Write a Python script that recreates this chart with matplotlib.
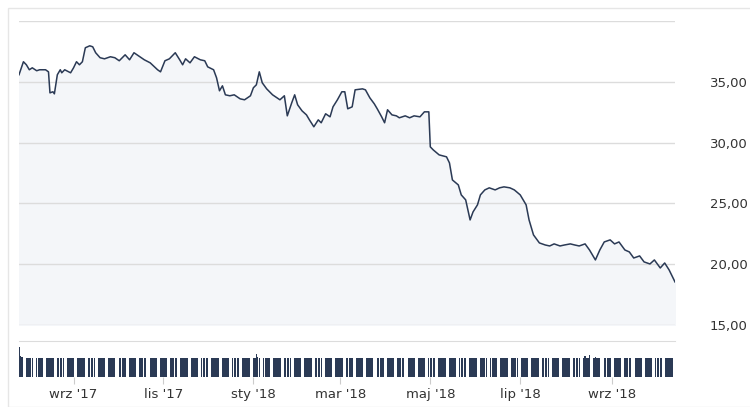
import numpy as np
import pandas as pd
import matplotlib
matplotlib.use("Agg")
import matplotlib.pyplot as plt

start = pd.Timestamp("2017-07-26")

# day offsets from start and closing price
days = [0, 3, 5, 7, 9, 12, 14, 18, 20, 21, 23, 24, 26, 28, 29, 31, 35, 37, 39, 41, 43, 45, 48, 50,
        52, 55, 58, 62, 65, 68, 72, 75, 78, 82, 85, 89, 94, 96, 99, 102, 106, 109, 111, 113, 116,
        119, 123, 126, 128, 132, 134, 136, 138, 140, 143, 146, 150, 153, 157, 159, 161, 163, 165,
        168, 170, 172, 174, 177, 180, 182, 185, 187, 189, 192, 195, 197, 200, 203, 205, 208, 211,
        213, 216, 219, 221, 223, 226, 228, 233, 235, 238, 241, 243, 246, 248, 250, 253, 256, 258,
        262, 265, 268, 272, 275, 278, 279, 281, 285, 290, 292, 294, 298, 300, 303, 306, 308, 311,
        313, 316, 319, 323, 326, 329, 333, 336, 340, 342, 344, 346, 349, 353, 357, 360, 363, 367,
        370, 374, 377, 380, 384, 387, 391, 394, 397, 401, 404, 407, 411, 414, 417, 421, 424, 428,
        431, 435, 438, 441, 445]
price = [35.58, 36.65, 36.40, 35.99, 36.15, 35.91, 35.99, 35.99, 35.82, 34.09, 34.18, 34.01, 35.58,
         35.99, 35.74, 35.99, 35.74, 36.15, 36.65, 36.40, 36.65, 37.80, 37.96, 37.88, 37.39, 36.98,
         36.89, 37.06, 36.98, 36.73, 37.22, 36.81, 37.39, 37.06, 36.81, 36.56, 35.99, 35.82, 36.73,
         36.89, 37.39, 36.81, 36.40, 36.89, 36.56, 37.06, 36.81, 36.73, 36.23, 35.99, 35.33, 34.26,
         34.67, 33.93, 33.85, 33.93, 33.60, 33.52, 33.85, 34.51, 34.75, 35.82, 34.92, 34.42, 34.18,
         33.93, 33.77, 33.52, 33.85, 32.20, 33.27, 33.93, 33.11, 32.61, 32.28, 31.87, 31.30, 31.87,
         31.63, 32.37, 32.12, 32.94, 33.52, 34.18, 34.18, 32.78, 32.94, 34.34, 34.42, 34.34, 33.68,
         33.19, 32.78, 32.12, 31.63, 32.70, 32.28, 32.20, 32.04, 32.20, 32.04, 32.20, 32.12, 32.53,
         32.53, 29.65, 29.40, 28.99, 28.83, 28.33, 26.93, 26.52, 25.70, 25.29, 23.64, 24.30, 24.88,
         25.70, 26.11, 26.28, 26.11, 26.28, 26.36, 26.28, 26.11, 25.70, 25.29, 24.88, 23.64, 22.41,
         21.75, 21.58, 21.50, 21.67, 21.50, 21.58, 21.67, 21.58, 21.50, 21.67, 21.17, 20.35, 21.17,
         21.83, 22.00, 21.67, 21.83, 21.17, 21.01, 20.51, 20.68, 20.19, 20.02, 20.35, 19.69, 20.10,
         19.53, 18.54]

# volume: mostly flat, a few taller bars (keyed by day offset)
vol_base = 1.0
vol_peaks = {0: 1.6, 1: 1.1, 2: 1.05, 161: 1.2, 162: 1.05, 384: 1.1, 387: 1.15, 391: 1.05,
             424: 1.05, 438: 1.05}
vdates = pd.bdate_range(start, start + pd.Timedelta(days=445))
vol_days = [(d - start).days for d in vdates]
volume = [vol_peaks.get(d, vol_base) for d in vol_days]

tick_dates = ["2017-09-01", "2017-11-01", "2018-01-01", "2018-03-01", "2018-05-01",
              "2018-07-01", "2018-09-01"]
tick_labels = ["wrz '17", "lis '17", "sty '18", "mar '18", "maj '18", "lip '18", "wrz '18"]
y_ticks = [15, 20, 25, 30, 35]

dates = [start + pd.Timedelta(days=d) for d in days]
x0, x1 = start, start + pd.Timedelta(days=445)

W, H = 750, 407
fig = plt.figure(figsize=(7.5, 4.07), dpi=100)
fig.patches.append(plt.Rectangle((8 / W, 0), 1, 1 - 8 / H, transform=fig.transFigure,
                                 fill=False, edgecolor="#e6e6e6", linewidth=1))
ax = fig.add_axes([19 / W, 1 - 325 / H, (675 - 19) / W, (325 - 21) / H])
axv = fig.add_axes([19 / W, 1 - 377 / H, (675 - 19) / W, (377 - 341) / H])

line_col = "#2b3a55"
ax.fill_between(dates, price, 15, color="#f4f6f9", zorder=1)
ax.plot(dates, price, color=line_col, linewidth=1.1, zorder=3)
ax.set_xlim(x0, x1)
ax.set_ylim(15, 40)
ax.set_yticks(y_ticks + [40])
ax.grid(axis="y", color="#dcdcdc", linewidth=1)
ax.yaxis.tick_right()
ax.set_yticklabels([f"{v:.2f}".replace(".", ",") for v in y_ticks] + [""])
ax.tick_params(axis="y", length=0, pad=25, labelsize=9.5, labelcolor="#333333")
ax.tick_params(axis="x", bottom=False, labelbottom=False)
for s in ax.spines.values():
    s.set_visible(False)

axv.bar(vdates, volume, width=0.9, color=line_col, align="center")
axv.set_xlim(x0, x1)
axv.set_ylim(0, 1.9)
axv.set_yticks([])
axv.set_xticks([pd.Timestamp(t) for t in tick_dates])
axv.set_xticklabels(tick_labels)
axv.tick_params(axis="x", length=5, color="#cccccc", labelsize=9.5, labelcolor="#333333", pad=3)
for k, s in axv.spines.items():
    s.set_visible(k == "top")
axv.spines["top"].set_color("#dcdcdc")

fig.savefig("out.png", dpi=100)
